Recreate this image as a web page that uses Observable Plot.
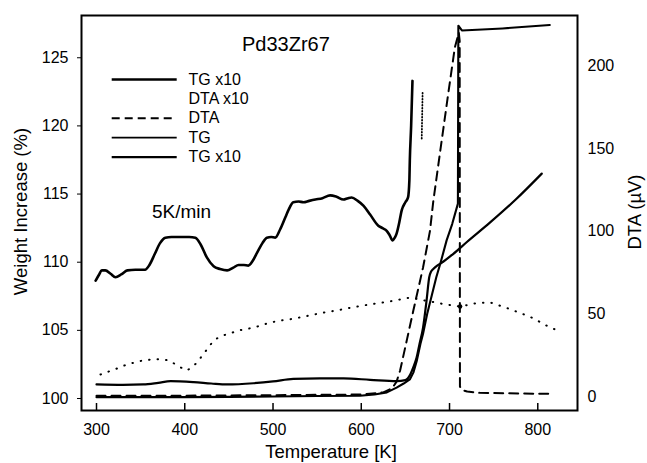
<!DOCTYPE html>
<html>
<head>
<meta charset="utf-8">
<script src="https://cdn.jsdelivr.net/npm/d3@7"></script>
<script src="https://cdn.jsdelivr.net/npm/@observablehq/plot@0.6"></script>
<style>
  body { margin: 0; background: #fff; }
  #chart svg { display: block; }
</style>
</head>
<body>
<div id="chart"></div>
<script>
// ---------- axes ----------
const xTicks = [300, 400, 500, 600, 700, 800];
const wTicks = [100, 105, 110, 115, 120, 125];
const dtaTicks = [0, 50, 100, 150, 200];

// ---------- series: [Temperature K, Weight increase %] ----------
const tgX10Wavy = [
  [299,108.65],[303,109.1],[306,109.4],[310,109.4],[316,109.15],[321.5,108.9],[328,109.1],
  [335,109.4],[344,109.45],[355,109.45],[360,109.8],[366,110.6],[372,111.4],[378,111.8],
  [385,111.85],[395,111.85],[405,111.85],[412,111.8],[418,111.3],[425,110.35],[432.7,109.7],
  [440,109.5],[448,109.4],[455,109.6],[461,109.8],[467,109.8],[472,109.75],[477,110.1],
  [482,110.7],[488,111.4],[493,111.8],[498,111.85],[502.5,111.8],[508,112.4],[514,113.3],
  [518,113.9],[523,114.4],[529,114.45],[534.5,114.4],[541,114.5],[548,114.6],[556,114.7],
  [564.7,114.9],[572,114.8],[579.8,114.6],[585,114.7],[589,114.75],[596,114.5],[602.4,114.15],
  [610,113.5],[619,112.7],[624,112.5],[628.8,112.3],[632,112.0],[635.5,111.6],[638,111.8],
  [640,112.1],[643,112.9],[645.8,113.8],[650,114.4],[653,114.75],[654.5,116],[655,117.45],
  [656.5,120],[658,123.3]
];
const tg = [
  [300,101.03],[330,101.0],[353,101.03],[370,101.15],[384,101.27],[410,101.2],[430,101.1],
  [448,101.03],[478,101.12],[500,101.25],[523,101.44],[553,101.47],[580,101.47],[610,101.37],
  [640,101.27],[650,101.35],[655,101.7],[659,102.3],[662.7,103],[666,104],[670,105.2],
  [674,107.2],[677,108.9],[679,109.3],[681.6,109.5],[686,109.75],[691,109.95],[704,110.6],
  [720,111.5],[745.7,112.9],[775,114.6],[804.5,116.5]
];
const tgX10 = [
  [300,100.1],[350,100.1],[400,100.1],[450,100.12],[500,100.15],[550,100.18],[598.6,100.2],
  [615,100.3],[629,100.45],[640,100.8],[648,101.1],[655,101.4],[659,101.9],[663,102.8],
  [667,104.0],[670,104.75],[675,106.3],[680,107.6],[685,108.9],[690,110.0],[696.7,111.6],
  [703,112.8],[709.5,114.3],[710,127.35],[714,127.0],[760,127.15],[813.6,127.4]
];

// ---------- series: [Temperature K, DTA µV] ----------
const dta = [
  [300,0.5],[400,0.5],[500,0.8],[600,1.2],[625,2.5],[635,5],[640,9],[644,15.7],[652,35],
  [659,52],[670,78],[677.8,100],[681.6,118],[689,146.6],[698.5,183],[706,211],[709,217],
  [710.5,220],[711.5,215],[711.8,6],[714,4],[720,3],[734,2.2],[813.6,1.6]
];
const dtaX10 = [
  [304.5,13.3],[323,16.9],[334.7,19.4],[350,21.5],[366.7,22.7],[381.8,21.9],[395,17.7],
  [402.6,15.7],[410,18.6],[414,20.6],[432.7,33.8],[440,36.3],[451.6,38.3],[465,40.4],
  [478,41.6],[493,44.1],[506,45.8],[523,47.0],[557,50.7],[576,52.4],[591,54.0],[610,55.7],
  [634.5,57.7],[655,59.8],[695,55.7],[712,54.4],[730.7,56.5],[745.7,56.9],[764.5,53.6],
  [783,49.9],[794.6,47.4],[809.8,42.9],[826.7,38.8]
];
const dtaX10Steep = [[668.5,156],[669.5,184]];
const dtaMarker = [[712,54.4]];

// ---------- legend ----------
const legendLabels = ["TG x10", "DTA x10", "DTA", "TG", "TG x10"];
const legendStyles = [
  {strokeWidth: 2.6},
  null,
  {strokeWidth: 2, strokeDasharray: "8,5"},
  {strokeWidth: 1.8},
  {strokeWidth: 2.2}
];

// ---------- scales ----------
const xDomain = [283, 845];
const yDomain = [99.12, 128.1];
// DTA (µV) -> position on weight axis
const toW = v => 100.1466 + 0.12134 * v;
const fromW = w => (w - 100.1466) / 0.12134;

const W = 647, H = 463;
const mL = 81, mR = 70, mT = 15, mB = 53;
const plotW = W - mL - mR, plotH = H - mT - mB;
const font = "'Liberation Sans', Arial, Helvetica, sans-serif";

const marks = [
  // inward x ticks
  Plot.ruleX(xTicks, {insetTop: plotH - 7, stroke: "#000", strokeWidth: 1.5}),
  Plot.axisX(xTicks, {anchor: "bottom", tickSize: 0, tickPadding: 13, label: null, fontSize: 16}),
  Plot.axisY(wTicks, {anchor: "left", tickSize: 4, tickPadding: 9, label: null, fontSize: 16}),
  Plot.axisY(dtaTicks.map(toW), {anchor: "right", tickSize: 0, tickPadding: 10, label: null, fontSize: 16,
    tickFormat: d => String(Math.round(fromW(d)))}),
  Plot.frame({stroke: "#000", strokeWidth: 2}),

  // curves
  Plot.line(dtaX10, {x: d => d[0], y: d => toW(d[1]), stroke: "#000", strokeWidth: 2,
    strokeDasharray: "0.5,8", strokeLinecap: "round"}),
  Plot.line(dtaX10Steep, {x: d => d[0], y: d => toW(d[1]), stroke: "#000", strokeWidth: 1.8,
    strokeDasharray: "0.5,2.5", strokeLinecap: "round"}),
  Plot.dot(dtaMarker, {x: d => d[0], y: d => toW(d[1]), r: 2.2, fill: "#000"}),
  Plot.line(dta, {x: d => d[0], y: d => toW(d[1]), stroke: "#000", strokeWidth: 2,
    strokeDasharray: "9,6"}),
  Plot.line(tgX10, {x: d => d[0], y: d => d[1], stroke: "#000", strokeWidth: 2.1, curve: "linear"}),
  Plot.line(tg, {x: d => d[0], y: d => d[1], stroke: "#000", strokeWidth: 2.2, curve: "monotone-x"}),
  Plot.line(tgX10Wavy, {x: d => d[0], y: d => d[1], stroke: "#000", strokeWidth: 2.6, curve: "monotone-x"}),

  // annotations
  Plot.text(["Pd33Zr67"], {text: d => d, frameAnchor: "top-left", dx: 160.5, dy: 29.5,
    textAnchor: "start", lineAnchor: "middle", fontSize: 20}),
  Plot.text(["5K/min"], {text: d => d, frameAnchor: "top-left", dx: 70.5, dy: 196.5,
    textAnchor: "start", lineAnchor: "middle", fontSize: 19}),

  // axis titles
  Plot.text(["Temperature [K]"], {text: d => d, frameAnchor: "bottom", dx: 1.5, dy: 42,
    textAnchor: "middle", lineAnchor: "middle", fontSize: 18.5}),
  Plot.text(["Weight Increase (%)"], {text: d => d, frameAnchor: "left", dx: -60, dy: -1.5,
    rotate: -90, textAnchor: "middle", lineAnchor: "middle", fontSize: 18.5}),
  Plot.text(["DTA (µV)"], {text: d => d, frameAnchor: "right", dx: 58, dy: -1,
    rotate: -90, textAnchor: "middle", lineAnchor: "middle", fontSize: 18.5})
];

// legend rows
legendLabels.forEach((label, i) => {
  const dy = 64 + i * 19.4;
  const st = legendStyles[i];
  if (st) {
    marks.push(Plot.ruleY([yDomain[1]], {dy, insetLeft: 30.7, insetRight: plotW - 95.7,
      stroke: "#000", ...st}));
  }
  marks.push(Plot.text([label], {text: d => d, frameAnchor: "top-left", dx: 107, dy,
    textAnchor: "start", lineAnchor: "middle", fontSize: 16}));
});

const chart = Plot.plot({
  width: W, height: H,
  marginLeft: mL, marginRight: mR, marginTop: mT, marginBottom: mB,
  style: {fontFamily: font, fontSize: "16px", color: "#000", background: "#fff"},
  x: {domain: xDomain},
  y: {domain: yDomain},
  marks
});
document.getElementById("chart").appendChild(chart);
</script>
</body>
</html>
